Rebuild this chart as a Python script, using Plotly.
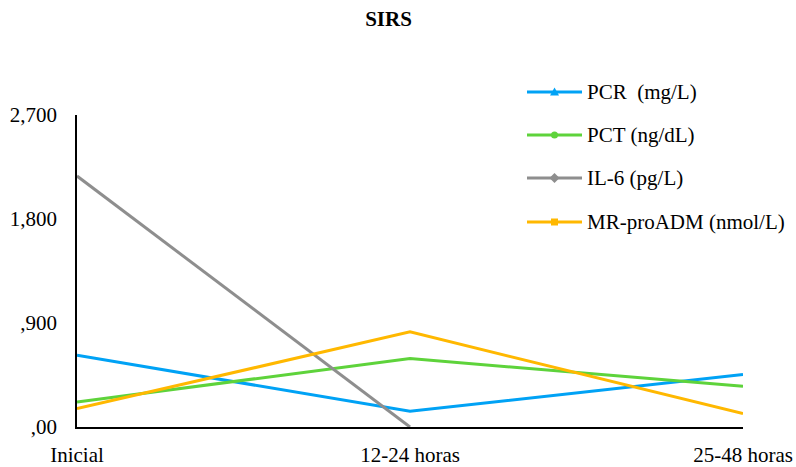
import plotly.graph_objects as go

# Time points and marker levels
categories = ["Inicial", "12-24 horas", "25-48 horas"]
pcr = [621, 136, 454]
pct = [217, 592, 353]
il6 = [2172, 0, None]
mr_proadm = [159, 823, 116]

tick_vals = [0, 900, 1800, 2700]
tick_text = [",00", ",900", "1,800", "2,700"]

series_names = ["PCR  (mg/L)", "PCT (ng/dL)", "IL-6 (pg/L)", "MR-proADM (nmol/L)"]
series_values = [pcr, pct, il6, mr_proadm]
series_colors = ["#00A2F5", "#5ED33B", "#8E8E8E", "#FFB800"]

font_family = "Liberation Serif"

W, H = 796, 467
ML, MR, MT, MB = 77, 53, 115, 40
PW, PH = W - ML - MR, H - MT - MB


def px_x(px):
    return (px - ML) / PW


def px_y(py):
    return (H - MB - py) / PH


fig = go.Figure()
for name, vals, color in zip(series_names, series_values, series_colors):
    fig.add_trace(go.Scatter(
        x=categories, y=vals, mode="lines", name=name,
        line=dict(color=color, width=3), showlegend=False,
    ))

# Legend drawn as shapes + annotations (long line with centred marker)
legend_rows = [92, 135, 178, 222]
marker_paths = [
    "M-4.5,-3.5 L4.5,-3.5 L0,4.5 Z",        # triangle
    None,                                   # circle
    "M0,-5 L5,0 L0,5 L-5,0 Z",              # diamond
    "M-3.5,-3.5 L3.5,-3.5 L3.5,3.5 L-3.5,3.5 Z",  # square
]
shapes = []
annotations = []
for name, color, row, path in zip(series_names, series_colors, legend_rows, marker_paths):
    shapes.append(dict(type="line", xref="paper", yref="paper",
                       x0=px_x(527), x1=px_x(582), y0=px_y(row), y1=px_y(row),
                       line=dict(color=color, width=3)))
    if path is None:
        shapes.append(dict(type="circle", xref="paper", yref="paper",
                           xsizemode="pixel", ysizemode="pixel",
                           xanchor=px_x(554.5), yanchor=px_y(row),
                           x0=-3.5, x1=3.5, y0=-3.5, y1=3.5,
                           fillcolor=color, line=dict(color=color, width=0)))
    else:
        shapes.append(dict(type="path", xref="paper", yref="paper",
                           xsizemode="pixel", ysizemode="pixel",
                           xanchor=px_x(554.5), yanchor=px_y(row),
                           path=path, fillcolor=color,
                           line=dict(color=color, width=0)))
    annotations.append(dict(text=name, xref="paper", yref="paper",
                            x=px_x(585), y=px_y(row), xanchor="left", yanchor="middle",
                            showarrow=False,
                            font=dict(family=font_family, size=21, color="black")))

fig.update_layout(
    width=W, height=H,
    paper_bgcolor="white", plot_bgcolor="white",
    margin=dict(l=ML, r=MR, t=MT, b=MB, autoexpand=False),
    title=dict(text="<b>SIRS</b>", x=px_x(388.5), xref="paper", xanchor="center",
               y=1 - 19 / H, yanchor="middle",
               font=dict(family=font_family, size=21, color="black")),
    font=dict(family=font_family, size=21, color="black"),
    showlegend=False,
    shapes=shapes,
    annotations=annotations,
    xaxis=dict(
        type="category", range=[0, 2], showgrid=False, zeroline=False,
        showline=True, linecolor="black", linewidth=1.5, automargin=False,
        ticks="outside", ticklen=8, tickcolor="rgba(0,0,0,0)",
        tickfont=dict(family=font_family, size=21), fixedrange=True,
    ),
    yaxis=dict(
        range=[0, 2700], tickvals=tick_vals, ticktext=tick_text,
        showgrid=False, zeroline=False, showline=True, linecolor="black",
        linewidth=1.5, ticks="outside", ticklen=14, tickcolor="rgba(0,0,0,0)",
        automargin=False, tickfont=dict(family=font_family, size=21),
    ),
)

fig.write_html("out.html")
